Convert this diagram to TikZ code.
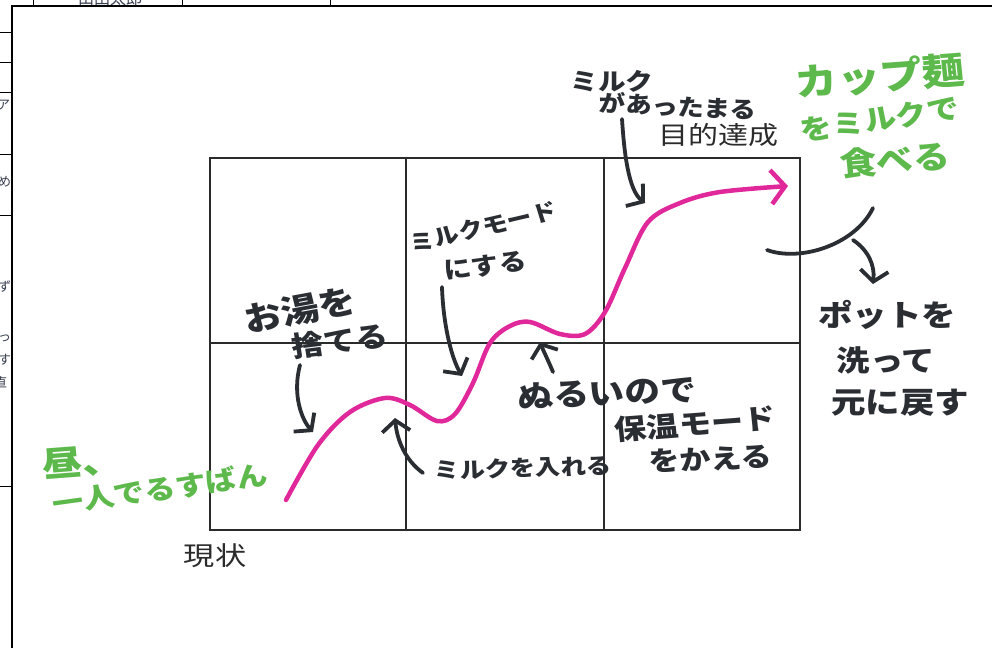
\documentclass[tikz,border=0pt]{standalone}
\usepackage{fontspec}
\newfontfamily\jpfont{Noto Sans CJK JP}
\usetikzlibrary{arrows.meta, positioning}

\definecolor{ink}{HTML}{2A2E33}
\definecolor{marker}{HTML}{5DB94B}
\definecolor{pinkpen}{HTML}{E0289A}
\definecolor{rulegray}{HTML}{2B2B2B}
\definecolor{fragtext}{HTML}{3A4050}

\newcommand\hf[1]{\jpfont\bfseries\fontsize{#1}{#1}\selectfont}
\newcommand\pf[1]{\jpfont\fontsize{#1}{#1}\selectfont}

\begin{document}
\begin{tikzpicture}[x=1pt, y=-1pt,
  hand/.style={text=ink, inner sep=0pt, xscale=1.15},
  greenhand/.style={hand, text=marker},
  printed/.style={text=rulegray, inner sep=0pt, xscale=1.2},
  frag/.style={text=fragtext, inner sep=0pt, font=\pf{13}},
  grid/.style={draw=rulegray, line width=1.6pt},
  frame/.style={draw=black, line width=1.8pt},
  pen/.style={draw=ink, line width=3.8pt, line cap=round,
    -{Straight Barb[length=11pt, width=28pt]}},
  curve/.style={draw=pinkpen, line width=4.5pt, line cap=round,
    -{Straight Barb[length=14pt, width=34pt]}}]

  \useasboundingbox[fill=white] (0,0) rectangle (992,648);

  % page this sheet was pasted on
  \begin{scope}
    \clip (0,0) rectangle (12,648);
    \foreach \y in {32,62,92,154,215,486}
      \draw[black, line width=0.8pt] (0,\y) -- (12,\y);
    \node[frag, anchor=west] at (-3,105) {ア};
    \node[frag, anchor=west] at (-2,182) {め};
    \node[frag, anchor=west] at (-2,287) {ずカ};
    \node[frag, anchor=west] at (-2,338) {っ};
    \node[frag, anchor=west] at (-2,360) {すか};
    \node[frag, anchor=west] at (-6,383) {直};
  \end{scope}
  \begin{scope}
    \clip (12,0) rectangle (992,6);
    \foreach \x in {33,182,330}
      \draw[black, line width=0.8pt] (\x,0) -- (\x,6);
    \node[frag, font=\pf{16}] at (110,-2) {山田太郎};
  \end{scope}
  \draw[frame] (12,648) -- (12,6) -- (992,6);

  % grid
  \draw[grid] (210,158) rectangle (800,530);
  \foreach \x in {406,604}
    \draw[grid] (\x,158) -- (\x,530);
  \draw[grid] (210,343) -- (800,343);

  \node[printed, font=\pf{25}] (goal) at (718,135) {目的達成};
  \node[printed, font=\pf{26}] (now) at (215,556) {現状};

  % the path
  \draw[curve] plot[smooth, tension=0.55] coordinates {(286,500) (318,445)
    (350,412) (385,398) (410,405) (437,421) (455,414) (473,383) (490,343)
    (510,326) (530,322) (560,334) (585,334) (605,312) (625,268) (648,222)
    (680,203) (720,192) (788,186)};

  % green notes
  \node[greenhand, font=\hf{35}, rotate=5] (hiru) at (82,462) {昼、};
  \node[greenhand, font=\hf{27}, rotate=9] (rusuban) at (160,489) {一人でるすばん};
  \node[greenhand, font=\hf{37}, rotate=5] (cup) at (880,76) {カップ麺};
  \node[greenhand, font=\hf{28}, rotate=10] (demilk) at (880,119) {をミルクで};
  \node[greenhand, font=\hf{32}, rotate=5] (taberu) at (895,160) {食べる};

  % black notes
  \node[hand, font=\hf{33}, rotate=12] (yu) at (300,310) {お湯を};
  \node[hand, font=\hf{28}, rotate=8] (suteru) at (340,341) {捨てる};
  \node[hand, font=\hf{22}, rotate=15] (milkmode) at (483,227) {ミルクモード};
  \node[hand, font=\hf{24}, rotate=8] (nisuru) at (485,266) {にする};
  \node[hand, font=\hf{22}, rotate=2] (ireru) at (523,468) {ミルクを入れる};
  \node[hand, font=\hf{31}, rotate=3] (nurui) at (607,393) {ぬるいので};
  \node[hand, font=\hf{28}, rotate=5] (hoon) at (695,424) {保温モード};
  \node[hand, font=\hf{27}, rotate=3] (kaeru) at (710,459) {をかえる};
  \node[hand, font=\hf{24}] (milk) at (612,81) {ミルク};
  \node[hand, font=\hf{23}, rotate=-3] (attamaru) at (678,106) {があったまる};
  \node[hand, font=\hf{30}] (pot) at (887,315) {ポットを};
  \node[hand, font=\hf{29}] (aratte) at (886,360) {洗って};
  \node[hand, font=\hf{30}] (modosu) at (900,403) {元に戻す};

  % arrows to the path
  \coordinate (yu-s) at (300,365);
  \coordinate (yu-e) at (313,432);
  \coordinate (ireru-s) at (423,473);
  \coordinate (ireru-e) at (395,418);
  \coordinate (mode-s) at (442,287);
  \coordinate (mode-e) at (462,376);
  \coordinate (nurui-s) at (553,372);
  \coordinate (nurui-e) at (540,342);
  \coordinate (milk-s) at (622,119);
  \coordinate (milk-e) at (645,203);
  \coordinate (arc-a) at (767,250);
  \coordinate (arc-b) at (873,208);
  \coordinate (pot-s) at (853,240);
  \coordinate (pot-e) at (873,284);

  \draw[pen] (yu-s) .. controls (292,395) and (302,420) .. (yu-e);
  \draw[pen] (ireru-s) .. controls (405,460) and (397,440) .. (ireru-e);
  \draw[pen] (mode-s) .. controls (443,320) and (450,355) .. (mode-e);
  \draw[pen] (nurui-s) .. controls (548,360) and (543,350) .. (nurui-e);
  \draw[pen] (milk-s) .. controls (624,150) and (628,190) .. (milk-e);
  \draw[pen, -] (arc-a) .. controls (800,262) and (855,245) .. (arc-b);
  \draw[pen] (pot-s) .. controls (868,250) and (875,265) .. (pot-e);
\end{tikzpicture}
\end{document}
